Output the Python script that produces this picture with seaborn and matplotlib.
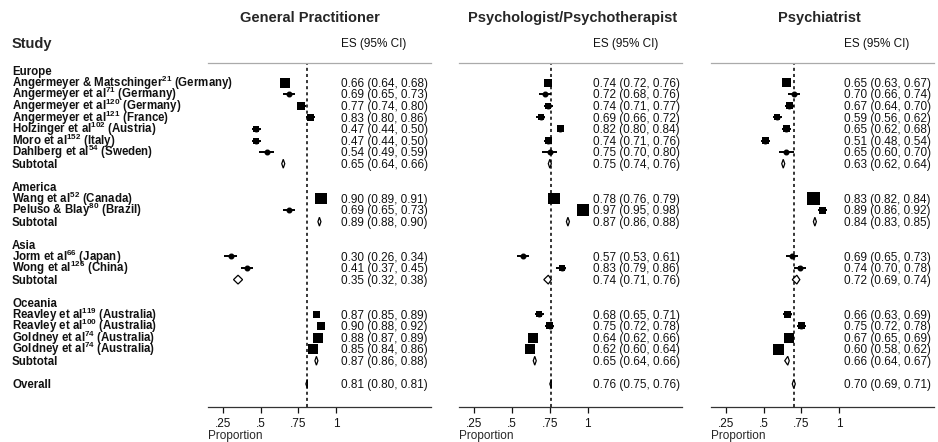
import numpy as np
import pandas as pd
import seaborn as sns
import matplotlib.pyplot as plt
from matplotlib import transforms

sns.set_style("white")
plt.rcParams['font.family'] = ['Liberation Sans', 'DejaVu Sans']
plt.rcParams['mathtext.default'] = 'regular'

# ---- data ----
panel_titles = ["General Practitioner", "Psychologist/Psychotherapist", "Psychiatrist"]
regions = ["Europe", "America", "Asia", "Oceania"]
region_sizes = [7, 2, 2, 4]
studies = [
    "Angermeyer & Matschinger$^{21}$ (Germany)",
    "Angermeyer et al$^{71}$ (Germany)",
    "Angermeyer et al$^{120}$ (Germany)",
    "Angermeyer et al$^{121}$ (France)",
    "Holzinger et al$^{102}$ (Austria)",
    "Moro et al$^{152}$ (Italy)",
    "Dahlberg et al$^{54}$ (Sweden)",
    "Wang et al$^{52}$ (Canada)",
    "Peluso & Blay$^{80}$ (Brazil)",
    "Jorm et al$^{66}$ (Japan)",
    "Wong et al$^{126}$ (China)",
    "Reavley et al$^{119}$ (Australia)",
    "Reavley et al$^{100}$ (Australia)",
    "Goldney et al$^{74}$ (Australia)",
    "Goldney et al$^{74}$ (Australia)",
]

gp_es = [0.66, 0.69, 0.77, 0.83, 0.47, 0.47, 0.54, 0.90, 0.69, 0.30, 0.41, 0.87, 0.90, 0.88, 0.85]
gp_lo = [0.64, 0.65, 0.74, 0.80, 0.44, 0.44, 0.49, 0.89, 0.65, 0.26, 0.37, 0.85, 0.88, 0.87, 0.84]
gp_hi = [0.68, 0.73, 0.80, 0.86, 0.50, 0.50, 0.59, 0.91, 0.73, 0.34, 0.45, 0.89, 0.92, 0.89, 0.86]
gp_weight = [9.8, 0.9, 6.3, 4.8, 3.5, 3.5, 0.9, 14, 0.9, 0.9, 0.9, 5.5, 6.3, 9.8, 9.8]
gp_sub_es = [0.65, 0.89, 0.35, 0.87]
gp_sub_lo = [0.64, 0.88, 0.32, 0.86]
gp_sub_hi = [0.66, 0.90, 0.38, 0.88]
gp_overall = [0.81, 0.80, 0.81]

psy_es = [0.74, 0.72, 0.74, 0.69, 0.82, 0.74, 0.75, 0.78, 0.97, 0.57, 0.83, 0.68, 0.75, 0.64, 0.62]
psy_lo = [0.72, 0.68, 0.71, 0.66, 0.80, 0.71, 0.70, 0.76, 0.95, 0.53, 0.79, 0.65, 0.72, 0.62, 0.60]
psy_hi = [0.76, 0.76, 0.77, 0.72, 0.84, 0.76, 0.80, 0.79, 0.98, 0.61, 0.86, 0.71, 0.78, 0.66, 0.64]
psy_weight = [6.3, 0.9, 3.5, 3.5, 4.8, 4.8, 0.9, 14, 14, 0.9, 3.5, 3.5, 4.8, 9.8, 9.8]
psy_sub_es = [0.75, 0.87, 0.74, 0.65]
psy_sub_lo = [0.74, 0.86, 0.71, 0.64]
psy_sub_hi = [0.76, 0.88, 0.76, 0.66]
psy_overall = [0.76, 0.75, 0.76]

psa_es = [0.65, 0.70, 0.67, 0.59, 0.65, 0.51, 0.65, 0.83, 0.89, 0.69, 0.74, 0.66, 0.75, 0.67, 0.60]
psa_lo = [0.63, 0.66, 0.64, 0.56, 0.62, 0.48, 0.60, 0.82, 0.86, 0.65, 0.70, 0.63, 0.72, 0.65, 0.58]
psa_hi = [0.67, 0.74, 0.70, 0.62, 0.68, 0.54, 0.70, 0.84, 0.92, 0.73, 0.78, 0.69, 0.78, 0.69, 0.62]
psa_weight = [8, 0.9, 4.8, 3.5, 4.8, 4.8, 0.9, 16.5, 4.8, 0.9, 1.6, 4.8, 4.8, 9.8, 11.8]
psa_sub_es = [0.63, 0.84, 0.72, 0.66]
psa_sub_lo = [0.62, 0.83, 0.69, 0.64]
psa_sub_hi = [0.64, 0.85, 0.74, 0.67]
psa_overall = [0.70, 0.69, 0.71]

tick_values = [0.25, 0.5, 0.75, 1.0]
tick_labels = [".25", ".5", ".75", "1"]

panels = [
    (gp_es, gp_lo, gp_hi, gp_weight, gp_sub_es, gp_sub_lo, gp_sub_hi, gp_overall),
    (psy_es, psy_lo, psy_hi, psy_weight, psy_sub_es, psy_sub_lo, psy_sub_hi, psy_overall),
    (psa_es, psa_lo, psa_hi, psa_weight, psa_sub_es, psa_sub_lo, psa_sub_hi, psa_overall),
]

# ---- row layout ----
header_rows, study_rows, sub_rows = [], [], []
r = 0
for n in region_sizes:
    header_rows.append(r)
    study_rows.extend(range(r + 1, r + 1 + n))
    sub_rows.append(r + 1 + n)
    r += n + 3
overall_row = r

# ---- figure geometry (pixels) ----
W, H = 938, 442
fig = plt.figure(figsize=(W / 100, H / 100), dpi=100)
px_per_unit = 150.7
x0s = [185.3, 436.8, 688.3]
xmin, xmax = 0.15, 1.63
top_px, bot_px = 63, 407
row0_px, row_step = 71, 11.59
ylim = ((bot_px - row0_px) / row_step, (top_px - row0_px) / row_step)
title_centers = [0.83, 0.9, 0.87]
base_off = 0.36  # baseline offset (rows) so text centres on the row

wmin = min(min(gp_weight), min(psy_weight), min(psa_weight))
wmax = max(max(gp_weight), max(psy_weight), max(psa_weight))
area_k = 5.3

fs = 8.5
axes = []
for i, (es, lo, hi, wt, ses, slo, shi, ov) in enumerate(panels):
    left = x0s[i] + xmin * px_per_unit
    width = (xmax - xmin) * px_per_unit
    ax = fig.add_axes([left / W, 1 - bot_px / H, width / W, (bot_px - top_px) / H])
    axes.append(ax)

    df = pd.DataFrame({"es": es, "lo": lo, "hi": hi, "weight": wt, "row": study_rows})
    ax.axvline(ov[0], color="black", lw=1.1, ls=(0, (2, 2)), zorder=1)
    ax.hlines(df["row"], df["lo"], df["hi"], color="black", lw=1.4, zorder=2)
    sns.scatterplot(data=df, x="es", y="row", size="weight",
                    sizes=(area_k * wmin, area_k * wmax), size_norm=(wmin, wmax),
                    marker="s", color="black", linewidth=0, legend=False, ax=ax, zorder=3)
    ax.plot(df["es"], df["row"], "o", color="black", ms=3.3, zorder=4)

    h = 0.38
    for e, l, u, rr in zip(ses + [ov[0]], slo + [ov[1]], shi + [ov[2]], sub_rows + [overall_row]):
        ax.fill([l, e, u, e], [rr, rr - h, rr, rr + h], facecolor="white",
                edgecolor="black", lw=0.9, zorder=4)

    for e, l, u, rr in zip(es + ses + [ov[0]], lo + slo + [ov[1]], hi + shi + [ov[2]],
                           study_rows + sub_rows + [overall_row]):
        ax.text(1.035, rr + base_off, f"{e:.2f} ({l:.2f}, {u:.2f})", fontsize=fs,
                va="baseline", ha="left", color="#111111")

    ax.text(1.035, (43 - row0_px) / row_step + base_off, "ES (95% CI)", fontsize=fs,
            va="baseline", ha="left", color="#111111")
    ax.text(title_centers[i], (17 - row0_px) / row_step + 0.42, panel_titles[i],
            fontsize=10.5, fontweight="bold", ha="center", va="baseline")

    ax.set_xlim(xmin, xmax)
    ax.set_ylim(*ylim)
    ax.set_yticks([])
    ax.set_ylabel("")
    ax.set_xticks(tick_values)
    ax.set_xticklabels(tick_labels, fontsize=fs)
    ax.tick_params(axis="x", direction="out", length=4.3, width=0.9, pad=3.5,
                   bottom=True, colors="#111111")
    ax.set_xlabel("Proportion", loc="left", fontsize=fs, labelpad=0)
    for s in ["left", "right"]:
        ax.spines[s].set_visible(False)
    ax.spines["bottom"].set_color("#333333")
    ax.spines["bottom"].set_linewidth(0.9)
    ax.spines["top"].set_color("#aaaaaa")
    ax.spines["top"].set_linewidth(0.9)
    ax.patch.set_alpha(0)

# ---- left label column ----
tr = transforms.blended_transform_factory(fig.transFigure, axes[0].transData)
lx = 12 / W
lab_kw = dict(fontsize=8.3, fontweight="bold", va="baseline", ha="left",
              transform=tr, color="#111111")
for name, rr in zip(regions, header_rows):
    fig.text(lx, rr + base_off, name, **lab_kw)
for name, rr in zip(studies, study_rows):
    fig.text(lx, rr + base_off, name, **lab_kw)
for rr in sub_rows:
    fig.text(lx, rr + base_off, "Subtotal", **lab_kw)
fig.text(lx, overall_row + base_off, "Overall", **lab_kw)
fig.text(lx, (43 - row0_px) / row_step + 0.42, "Study", fontsize=10.5, fontweight="bold",
         va="baseline", ha="left", transform=tr)

fig.savefig("out.png", dpi=100)
